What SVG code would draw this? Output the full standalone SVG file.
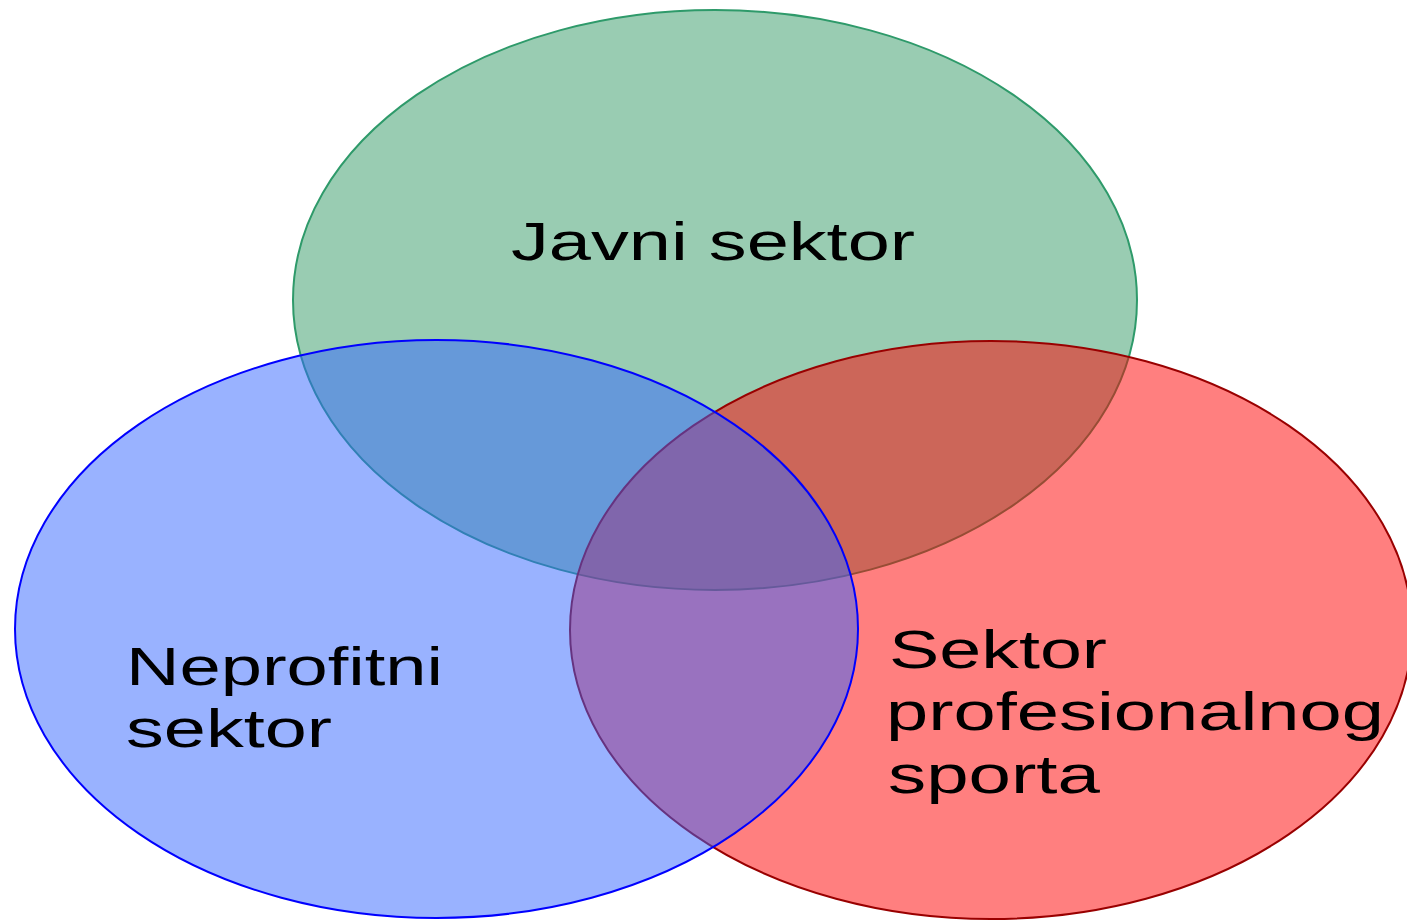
<svg xmlns="http://www.w3.org/2000/svg" width="1407" height="920" viewBox="0 0 1407 920">
<style>
.lbl{font-family:"Liberation Sans",Arial,sans-serif;font-size:54px;fill:#000}
ellipse{stroke-width:2}
</style>
<rect width="1407" height="920" fill="#fff"/>
<g id="javni">
<ellipse cx="715" cy="300" rx="422" ry="290" fill="#339966" fill-opacity="0.5" stroke="#2e9a6a"/>
<text class="lbl" x="511" y="260" textLength="404" lengthAdjust="spacingAndGlyphs">Javni sektor</text>
</g>
<g id="profesionalni">
<ellipse cx="991" cy="630" rx="421" ry="289" fill="#ff0000" fill-opacity="0.5" stroke="#990000"/>
<text class="lbl" x="889" y="668" textLength="218" lengthAdjust="spacingAndGlyphs">Sektor</text>
<text class="lbl" x="886" y="730" textLength="498" lengthAdjust="spacingAndGlyphs">profesionalnog</text>
<text class="lbl" x="888" y="793" textLength="212" lengthAdjust="spacingAndGlyphs">sporta</text>
</g>
<g id="neprofitni">
<ellipse cx="436.5" cy="629" rx="421.5" ry="289" fill="#3366ff" fill-opacity="0.5" stroke="#0000ff"/>
<text class="lbl" x="126" y="685" textLength="317" lengthAdjust="spacingAndGlyphs">Neprofitni</text>
<text class="lbl" x="126" y="747" textLength="206" lengthAdjust="spacingAndGlyphs">sektor</text>
</g>
<g id="connectors"></g>
</svg>
